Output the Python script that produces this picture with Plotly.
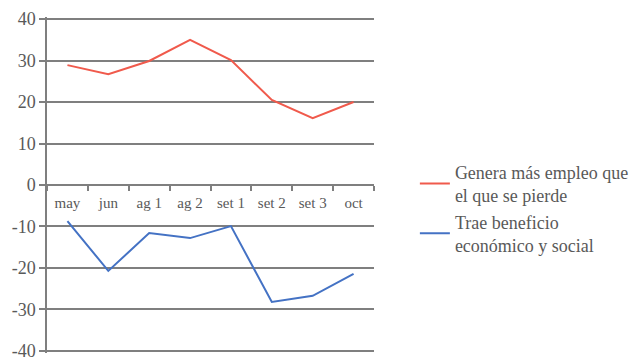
import plotly.graph_objects as go

categories = ["may", "jun", "ag 1", "ag 2", "set 1", "set 2", "set 3", "oct"]
empleo = [28.9, 26.7, 29.9, 35.0, 30.1, 20.5, 16.1, 20.0]
beneficio = [-8.7, -20.7, -11.6, -12.8, -9.9, -28.2, -26.7, -21.4]
y_ticks = [-40, -30, -20, -10, 0, 10, 20, 30, 40]
y_ticktext = ["-40", "-30", "-20", "-10", "0", "10", "20", "30", "40"]

font_family = "Liberation Serif"
text_color = "#595959"
grid_color = "#7f7f7f"

fig = go.Figure()
fig.add_trace(go.Scatter(
    x=categories, y=empleo, mode="lines",
    name="Genera más empleo que<br>el que se pierde",
    line=dict(color="#F05A4C", width=2),
))
fig.add_trace(go.Scatter(
    x=categories, y=beneficio, mode="lines",
    name="Trae beneficio<br>económico y social",
    line=dict(color="#4472C4", width=2),
))

fig.update_layout(
    width=634, height=359,
    margin=dict(l=47, r=260, t=17, b=6, autoexpand=False),
    paper_bgcolor="white", plot_bgcolor="white",
    font=dict(family=font_family, color=text_color, size=16),
    showlegend=True,
    legend=dict(
        x=1.125, y=0.43, xanchor="left", yanchor="middle",
        font=dict(family=font_family, size=18, color=text_color),
        tracegroupgap=10, itemwidth=30,
        bgcolor="rgba(0,0,0,0)",
    ),
    xaxis=dict(
        type="category",
        anchor="free", position=0.5,
        automargin=False,
        showline=True, linecolor=grid_color, linewidth=1.5,
        ticks="outside", tickson="boundaries", ticklen=5,
        tickcolor=grid_color, tickwidth=1.5,
        ticklabelstandoff=4,
        showgrid=False, zeroline=False,
        tickfont=dict(family=font_family, size=15, color=text_color),
        range=[-0.5, 7.5],
    ),
    yaxis=dict(
        range=[-40.5, 40.5],
        automargin=False,
        tickvals=y_ticks, ticktext=y_ticktext,
        ticklabeloverflow="allow",
        showline=True, linecolor=grid_color, linewidth=1.5,
        ticks="outside", ticklen=6, tickcolor=grid_color, tickwidth=1.5,
        showgrid=True, gridcolor=grid_color, gridwidth=1.5,
        zeroline=False,
        tickfont=dict(family=font_family, size=18, color=text_color),
    ),
)

fig.write_html("out.html", config={"displayModeBar": False},
               post_script="document.body.style.margin='0';")
